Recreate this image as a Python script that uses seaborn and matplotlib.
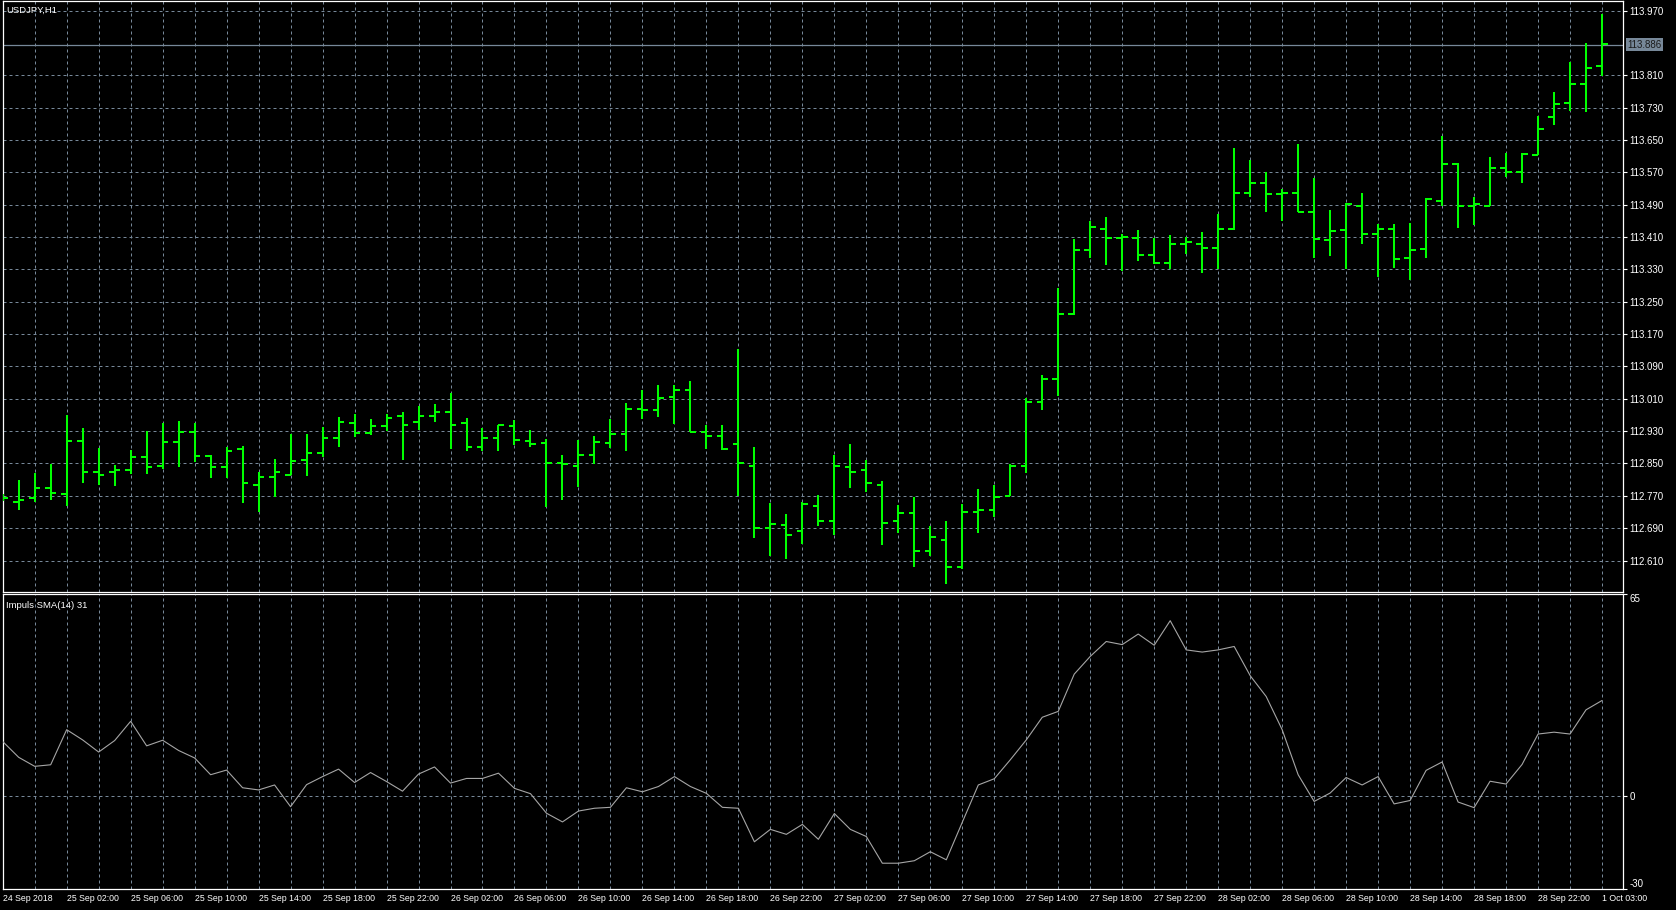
import matplotlib
matplotlib.use("Agg")
import matplotlib.pyplot as plt
import matplotlib.transforms as mtransforms
from matplotlib import font_manager as fm
import numpy as np
import pandas as pd
import seaborn as sns

# ---------------- data ----------------
symbol_title = "USDJPY,H1"
indicator_title = "Impuls SMA(14) 31"

opens = [112.768, 112.756, 112.765, 112.790, 112.775, 112.905, 112.830, 112.828, 112.835, 112.867,
         112.845, 112.904, 112.927, 112.869, 112.842, 112.885, 112.797, 112.817, 112.822, 112.859,
         112.875, 112.914, 112.950, 112.925, 112.942, 112.967, 112.953, 112.967, 112.978, 112.950,
         112.891, 112.912, 112.942, 112.906, 112.900, 112.851, 112.843, 112.870, 112.901, 112.922,
         112.985, 112.982, 113.015, 113.032, 112.928, 112.917, 112.897, 112.843, 112.691, 112.697,
         112.682, 112.744, 112.709, 112.841, 112.834, 112.796, 112.707, 112.727, 112.634, 112.662,
         112.593, 112.731, 112.734, 112.769, 112.843, 113.001, 113.060, 113.221, 113.379, 113.431,
         113.407, 113.407, 113.365, 113.345, 113.392, 113.394, 113.384, 113.429, 113.518, 113.545,
         113.516, 113.520, 113.473, 113.402, 113.427, 113.488, 113.418, 113.430, 113.359, 113.381,
         113.500, 113.591, 113.486, 113.488, 113.580, 113.570, 113.614, 113.708, 113.742, 113.789,
         113.833]
highs = [112.775, 112.809, 112.827, 112.848, 112.971, 112.938, 112.888, 112.847, 112.883, 112.930,
         112.951, 112.956, 112.949, 112.872, 112.891, 112.894, 112.830, 112.862, 112.924, 112.924,
         112.941, 112.964, 112.973, 112.961, 112.972, 112.977, 112.992, 112.997, 113.025, 112.963,
         112.937, 112.945, 112.957, 112.932, 112.910, 112.870, 112.907, 112.919, 112.960, 113.000,
         113.031, 113.044, 113.044, 113.054, 112.944, 112.944, 113.132, 112.892, 112.753, 112.726,
         112.755, 112.772, 112.872, 112.897, 112.858, 112.806, 112.748, 112.766, 112.695, 112.709,
         112.750, 112.788, 112.798, 112.849, 113.013, 113.068, 113.284, 113.405, 113.450, 113.459,
         113.417, 113.427, 113.408, 113.415, 113.409, 113.422, 113.468, 113.630, 113.601, 113.571,
         113.529, 113.640, 113.555, 113.478, 113.494, 113.520, 113.443, 113.443, 113.446, 113.506,
         113.660, 113.594, 113.510, 113.609, 113.618, 113.618, 113.709, 113.768, 113.843, 113.890,
         113.962]
lows = [112.758, 112.736, 112.755, 112.759, 112.746, 112.801, 112.798, 112.795, 112.825, 112.823,
        112.837, 112.842, 112.853, 112.813, 112.814, 112.753, 112.731, 112.768, 112.822, 112.819,
        112.867, 112.890, 112.915, 112.920, 112.930, 112.858, 112.934, 112.953, 112.887, 112.882,
        112.882, 112.882, 112.895, 112.892, 112.742, 112.760, 112.793, 112.848, 112.889, 112.881,
        112.960, 112.965, 112.947, 112.927, 112.886, 112.884, 112.769, 112.666, 112.622, 112.615,
        112.652, 112.695, 112.672, 112.789, 112.779, 112.648, 112.679, 112.593, 112.622, 112.553,
        112.588, 112.677, 112.717, 112.769, 112.827, 112.983, 113.016, 113.217, 113.358, 113.342,
        113.325, 113.350, 113.343, 113.332, 113.367, 113.322, 113.332, 113.428, 113.510, 113.471,
        113.449, 113.473, 113.358, 113.363, 113.330, 113.393, 113.312, 113.334, 113.304, 113.359,
        113.486, 113.432, 113.441, 113.486, 113.559, 113.543, 113.614, 113.687, 113.722, 113.719,
        113.808]
closes = [112.765, 112.760, 112.790, 112.778, 112.906, 112.830, 112.822, 112.834, 112.867, 112.842,
          112.902, 112.927, 112.869, 112.842, 112.882, 112.802, 112.817, 112.828, 112.857, 112.877,
          112.912, 112.952, 112.925, 112.942, 112.962, 112.944, 112.967, 112.978, 112.944, 112.891,
          112.912, 112.945, 112.907, 112.898, 112.851, 112.848, 112.870, 112.903, 112.922, 112.985,
          112.982, 113.012, 113.032, 112.928, 112.917, 112.886, 112.850, 112.690, 112.700, 112.672,
          112.751, 112.709, 112.845, 112.830, 112.801, 112.704, 112.727, 112.634, 112.667, 112.593,
          112.729, 112.734, 112.767, 112.843, 113.002, 113.060, 113.221, 113.379, 113.434, 113.407,
          113.409, 113.365, 113.345, 113.394, 113.397, 113.384, 113.429, 113.518, 113.545, 113.516,
          113.520, 113.473, 113.405, 113.425, 113.492, 113.418, 113.430, 113.356, 113.377, 113.503,
          113.592, 113.486, 113.491, 113.580, 113.570, 113.615, 113.677, 113.740, 113.789, 113.829,
          113.887]
impulse = [17.6, 12.5, 9.6, 10.1, 21.4, 18.1, 14.2, 17.9, 24.1, 16.2,
           18.0, 14.7, 12.3, 6.9, 8.4, 2.7, 2.0, 3.6, -3.4, 3.7,
           6.3, 8.7, 4.4, 7.6, 4.7, 1.6, 7.1, 9.4, 4.2, 5.7,
           5.7, 7.4, 2.5, 0.8, -5.5, -8.3, -4.8, -3.9, -3.6, 2.7,
           1.4, 3.1, 6.3, 3.1, 0.9, -3.6, -3.9, -14.7, -10.7, -12.3,
           -9.1, -13.9, -5.6, -10.7, -13.0, -21.6, -21.6, -20.8, -17.9, -20.5,
           -8.4, 3.6, 5.6, 11.7, 18.1, 25.4, 27.3, 39.3, 45.0, 49.8,
           48.8, 52.2, 48.6, 56.5, 47.1, 46.4, 47.1, 48.2, 38.8, 32.1,
           21.4, 6.9, -1.7, 1.0, 6.0, 3.6, 6.3, -2.5, -1.4, 8.3,
           11.0, -1.9, -3.7, 4.8, 3.9, 10.2, 20.0, 20.6, 20.0, 27.8,
           30.8]
time_labels = ["24 Sep 2018", "25 Sep 02:00", "25 Sep 06:00", "25 Sep 10:00", "25 Sep 14:00",
               "25 Sep 18:00", "25 Sep 22:00", "26 Sep 02:00", "26 Sep 06:00", "26 Sep 10:00",
               "26 Sep 14:00", "26 Sep 18:00", "26 Sep 22:00", "27 Sep 02:00", "27 Sep 06:00",
               "27 Sep 10:00", "27 Sep 14:00", "27 Sep 18:00", "27 Sep 22:00", "28 Sep 02:00",
               "28 Sep 06:00", "28 Sep 10:00", "28 Sep 14:00", "28 Sep 18:00", "28 Sep 22:00",
               "1 Oct 03:00"]
price_ticks = [112.610, 112.690, 112.770, 112.850, 112.930, 113.010, 113.090, 113.170, 113.250,
               113.330, 113.410, 113.490, 113.570, 113.650, 113.730, 113.810, 113.970]
indicator_ticks = [65, 0, -30]
current_price = 113.886

# ---------------- style ----------------
BG = "black"
GREEN = "#00FF00"
GRID = "#778899"
FG = "white"

sns.set_theme(style="dark", rc={
    "figure.facecolor": BG, "axes.facecolor": BG, "axes.edgecolor": FG,
    "axes.labelcolor": FG, "xtick.color": FG, "ytick.color": FG, "text.color": FG,
})
names = {f.name for f in fm.fontManager.ttflist}
base_font = "Liberation Sans" if "Liberation Sans" in names else "DejaVu Sans"
plt.rcParams["font.family"] = [base_font, "DejaVu Sans"]

W, H = 1676, 910
fig = plt.figure(figsize=(W / 100, H / 100), dpi=100, facecolor=BG)


def px_axes(left, top, right, bottom):
    return fig.add_axes([left / W, 1 - bottom / H, (right - left) / W, (bottom - top) / H])


ax = px_axes(2.7, 0.7, 1623.3, 591.7)
ax2 = px_axes(2.7, 594.3, 1623.3, 889.3)

idx = np.arange(len(opens))
df = pd.DataFrame({"bar": idx, "open": opens, "high": highs, "low": lows,
                   "close": closes, "impulse": impulse})

# ---------------- OHLC bars ----------------
bar_lw = 1.45
tick_len = 0.36
ax.vlines(df["bar"], df["low"], df["high"], color=GREEN, lw=bar_lw, capstyle="butt", zorder=3)
ax.hlines(df["open"], df["bar"] - tick_len, df["bar"], color=GREEN, lw=bar_lw, zorder=3)
ax.hlines(df["close"], df["bar"], df["bar"] + tick_len, color=GREEN, lw=bar_lw, zorder=3)
ax.axhline(current_price, color=GRID, lw=0.9, zorder=2)

# ---------------- indicator ----------------
sns.lineplot(data=df, x="bar", y="impulse", ax=ax2, color="#a6a6a6", linewidth=0.8, zorder=3)

# ---------------- axes formatting ----------------
xmin, xmax = 0.044, 101.33
major_x = list(range(0, 101, 4))
minor_x = list(range(2, 101, 4))
for a in (ax, ax2):
    a.set_xlim(xmin, xmax)
    a.set_xticks(major_x)
    a.set_xticks(minor_x, minor=True)
    a.set_facecolor(BG)
    for s in a.spines.values():
        s.set_color(FG)
        s.set_linewidth(0.9)
    a.grid(True, which="both", axis="x", color=GRID, linestyle=(0, (3, 3)), linewidth=0.72)
    a.set_xlabel("")
    a.set_ylabel("")
    a.yaxis.tick_right()
    a.tick_params(axis="y", which="both", direction="out", length=3, width=0.8,
                  colors=FG, labelsize=7, pad=1.5)
    a.tick_params(axis="x", which="minor", length=0)
    a.set_axisbelow(True)

ax.set_ylim(112.5329, 113.9947)
ax.set_yticks(price_ticks)
ax.set_yticklabels([f"{p:.3f}" for p in price_ticks])
ax.grid(True, which="major", axis="y", color=GRID, linestyle=(0, (3, 3)), linewidth=0.72)
ax.tick_params(axis="x", which="major", length=0, labelbottom=False)

ax2.set_ylim(-30, 65)
ax2.set_yticks(indicator_ticks)
ax2.set_yticklabels([str(v) for v in indicator_ticks])
for lbl, v in zip(ax2.get_yticklabels(), indicator_ticks):
    if v == max(indicator_ticks):
        lbl.set_verticalalignment("top")
    elif v == min(indicator_ticks):
        lbl.set_verticalalignment("bottom")
ax2.grid(True, which="major", axis="y", color=GRID, linestyle=(0, (3, 3)), linewidth=0.72)
ax2.set_xticklabels(time_labels)
ax2.tick_params(axis="x", which="major", direction="out", length=3, width=0.8,
                colors=FG, labelsize=6.3, pad=0.4)
for lbl in ax2.get_xticklabels():
    lbl.set_horizontalalignment("left")

# current price label on the right scale
trans = mtransforms.blended_transform_factory(ax.transAxes, ax.transData)
ax.text(1.0025, current_price, f"{current_price:.3f}", transform=trans, ha="left", va="center",
        fontsize=7, color="#1a1a1a", zorder=5, clip_on=False,
        bbox=dict(facecolor=GRID, edgecolor="none", boxstyle="square,pad=0.12"))

# window titles
fig.text(6 / W, 1 - 12.7 / H, symbol_title, ha="left", va="baseline", fontsize=6.8, color=FG)
fig.text(5.5 / W, 1 - 607.5 / H, indicator_title, ha="left", va="baseline", fontsize=6.8, color=FG)

fig.savefig("out.png", dpi=100, facecolor=BG)
